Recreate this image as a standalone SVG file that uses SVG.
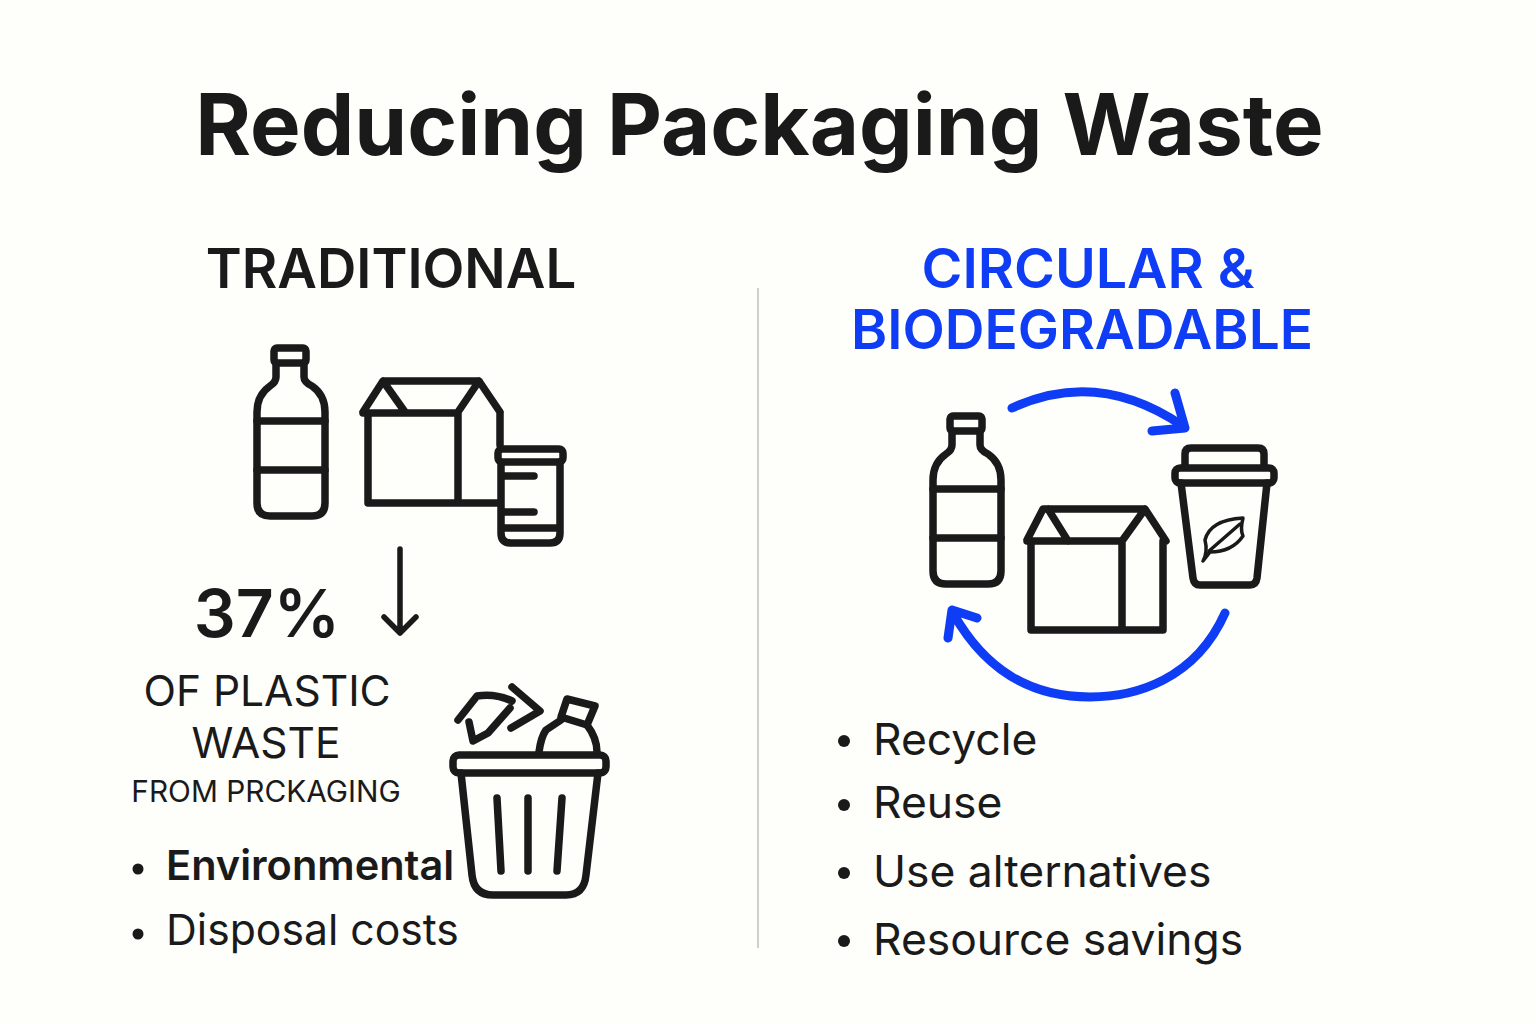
<svg xmlns="http://www.w3.org/2000/svg" width="1536" height="1024" viewBox="0 0 1536 1024">
<style>
text{font-family:Inter,"Liberation Sans",sans-serif;fill:#1a1a1a}
.ic{fill:none;stroke:#1a1a1a;stroke-width:7.5;stroke-linejoin:round;stroke-linecap:round}
.bl{fill:none;stroke:#0f3df5;stroke-width:9;stroke-linejoin:round;stroke-linecap:round}
.h{font-size:55px;font-weight:600}
.m{text-anchor:middle}
</style>
<defs>
<g id="bottle"><rect x="274" y="348" width="32" height="15" rx="3"/><path d="M276 363V377Q276 382 270 386Q257 395 257 412V503Q257 516 270 516H312Q325 516 325 503V412Q325 395 312 386Q304 382 304 377V363"/><path d="M257 421H325M257 470H325"/></g>
</defs>
<rect id="background" width="1536" height="1024" fill="#fefefa"/>
<text id="title" x="759.500" y="155" class="m" font-size="85" font-weight="700">Reducing Packaging Waste</text>
<g id="connectors">
<path id="divider" d="M758 288V948" stroke="#cfcfcb" stroke-width="2" fill="none"/>
<path d="M400 549V633M384 617L400 633L416 617" fill="none" stroke="#1a1a1a" stroke-width="5.5" stroke-linecap="round" stroke-linejoin="round"/>
<path class="bl" d="M1012 408Q1098 368 1183 426M1175 393L1185 428L1152 431"/>
<path class="bl" d="M1225 613C1195 680 1135 697 1090 697C1030 697 985 670 953 613M948 638L952 610L977 618"/>
</g>
<g id="traditional">
<text x="391" y="288" class="m" font-size="54.5" font-weight="600">TRADITIONAL</text>
<g id="bottle-left" class="ic"><use href="#bottle"/></g>
<g id="carton-left" class="ic"><path d="M500 413V445M363 412L383 381H479L500 412M383 381L405 412M479 381L458 412M363 413H458M368 413V503H498M458 413V503"/></g>
<g id="can" class="ic"><rect x="498" y="449" width="65" height="13" rx="4" fill="#fefefa"/><path d="M501 462V533Q501 543 511 543H550Q560 543 560 533V462M501 528H560M501 476H534M501 512H534"/></g>
<text id="stat" x="267" y="637" class="m" font-size="66" font-weight="600">37%</text>
<text x="267" y="706" class="m" font-size="42.5">OF PLASTIC</text>
<text x="266" y="758" class="m" font-size="42.5">WASTE</text>
<text x="266" y="802" class="m" font-size="29.8">FROM PRCKAGING</text>
<circle cx="138" cy="869" r="5.5" fill="#1a1a1a"/>
<text x="166" y="880" font-size="41.5" font-weight="600">Environmental</text>
<circle cx="138" cy="934" r="5.5" fill="#1a1a1a"/>
<text x="166" y="945" font-size="42.7">Disposal costs</text>
</g>
<g id="bin" class="ic">
<rect x="453" y="755" width="153" height="18" rx="6"/>
<path d="M461 773L472 875Q474 895 493 895H566Q584 895 586 875L598 773M497 798L501 871M528 798V871M562 798L557 871"/>
<path d="M539 752Q541 737 546 730L561 720M587 725Q597 738 597 752"/>
<path d="M567 699L595 706L587 725L561 717Z"/>
<path d="M458 720L477 696Q495 693 512 701M512 687L540 711L511 728"/>
<path d="M469 722L473 741L488 733L510 708"/>
</g>
<g id="circular">
<text x="1088" y="288" class="m" font-size="55.500" font-weight="600" style="fill:#0f3df5">CIRCULAR &amp;</text>
<text x="1082" y="349" class="m h" style="fill:#0f3df5">BIODEGRADABLE</text>
<g id="bottle-right" class="ic"><use href="#bottle" x="676" y="68"/></g>
<g id="carton-right" class="ic"><path d="M1027 540L1043 509H1145L1166 541M1048 509L1068 541M1145 509L1122 541M1027 541H1122M1031 541V630H1163V541M1122 541V630"/></g>
<g id="cup" class="ic"><path d="M1185 466V454Q1185 448 1191 448H1258Q1264 448 1264 454V466"/><rect x="1175" y="468" width="99" height="15" rx="5"/><path d="M1181 483L1193 578Q1194 585 1200 585H1250Q1256 585 1257 578L1267 483"/>
<path d="M1203 561Q1208 552 1205 540Q1210 520 1243 518Q1240 530 1243 536Q1232 552 1210 552Z" stroke-width="3.5"/><path d="M1209 551L1240 524" stroke-width="3.5"/></g>
<circle cx="844" cy="741" r="6" fill="#1a1a1a"/><text x="873" y="755" font-size="44.4">Recycle</text>
<circle cx="844" cy="805" r="6" fill="#1a1a1a"/><text x="873" y="818" font-size="44.4">Reuse</text>
<circle cx="844" cy="873" r="6" fill="#1a1a1a"/><text x="873" y="887" font-size="44.4">Use alternatives</text>
<circle cx="844" cy="941" r="6" fill="#1a1a1a"/><text x="873" y="955" font-size="44.4">Resource savings</text>
</g>
</svg>
